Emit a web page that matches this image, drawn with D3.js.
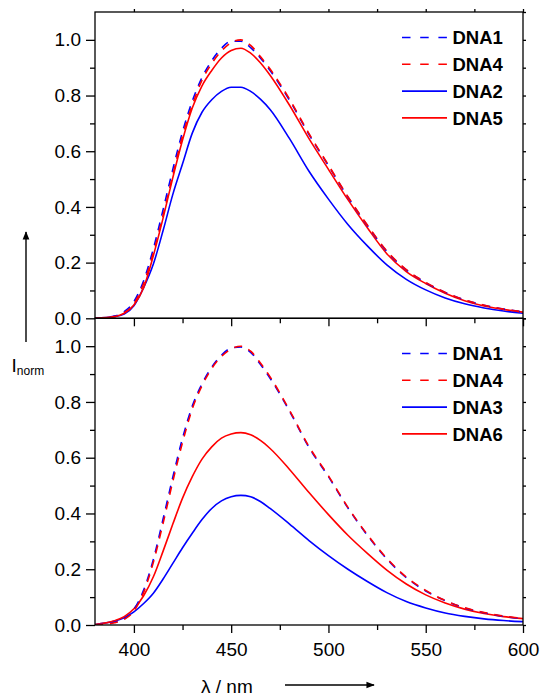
<!DOCTYPE html>
<html>
<head>
<meta charset="utf-8">
<script src="https://cdn.jsdelivr.net/npm/d3@7/dist/d3.min.js"></script>
<style>
body { margin: 0; background: #fff; }
text { font-family: "Liberation Sans", Arial, sans-serif; }
</style>
</head>
<body>
<script>
// wavelength grid (nm)
const wavelength = [380, 390, 395, 400, 405, 410, 415, 420, 425, 430, 435, 440, 445, 450, 455, 460, 465, 470, 480, 490, 500, 510, 520, 530, 540, 550, 560, 570, 580, 590, 600];

// top panel
const topDNA1 = [0, 0.008, 0.024, 0.06, 0.135, 0.25, 0.39, 0.535, 0.67, 0.78, 0.865, 0.925, 0.97, 0.995, 0.995, 0.972, 0.935, 0.89, 0.783, 0.66, 0.548, 0.435, 0.333, 0.24, 0.174, 0.128, 0.093, 0.066, 0.047, 0.033, 0.023];
const topDNA4 = [0, 0.006, 0.02, 0.052, 0.125, 0.235, 0.37, 0.515, 0.655, 0.765, 0.855, 0.915, 0.96, 0.99, 1.0, 0.98, 0.94, 0.895, 0.787, 0.663, 0.55, 0.437, 0.335, 0.242, 0.175, 0.129, 0.093, 0.066, 0.047, 0.033, 0.023];
const topDNA2 = [0, 0.006, 0.015, 0.045, 0.11, 0.195, 0.315, 0.445, 0.555, 0.665, 0.74, 0.785, 0.815, 0.83, 0.83, 0.815, 0.787, 0.75, 0.645, 0.528, 0.428, 0.337, 0.26, 0.192, 0.14, 0.102, 0.073, 0.052, 0.037, 0.026, 0.018];
const topDNA5 = [0, 0.006, 0.018, 0.048, 0.11, 0.225, 0.36, 0.505, 0.64, 0.755, 0.835, 0.89, 0.935, 0.962, 0.97, 0.952, 0.918, 0.873, 0.765, 0.645, 0.535, 0.426, 0.325, 0.232, 0.168, 0.125, 0.09, 0.063, 0.044, 0.032, 0.022];

// bottom panel
const botDNA1 = [0, 0.01, 0.022, 0.056, 0.125, 0.235, 0.38, 0.53, 0.67, 0.785, 0.865, 0.925, 0.968, 0.993, 0.997, 0.978, 0.935, 0.885, 0.767, 0.637, 0.532, 0.42, 0.322, 0.237, 0.17, 0.122, 0.087, 0.061, 0.044, 0.031, 0.023];
const botDNA4 = [0, 0.008, 0.02, 0.05, 0.117, 0.225, 0.365, 0.515, 0.655, 0.775, 0.858, 0.92, 0.963, 0.99, 1.0, 0.982, 0.94, 0.89, 0.77, 0.64, 0.535, 0.422, 0.324, 0.239, 0.172, 0.124, 0.088, 0.062, 0.045, 0.032, 0.024];
const botDNA3 = [0.002, 0.014, 0.026, 0.047, 0.077, 0.114, 0.165, 0.221, 0.277, 0.329, 0.378, 0.418, 0.445, 0.46, 0.465, 0.46, 0.443, 0.418, 0.362, 0.303, 0.249, 0.2, 0.156, 0.116, 0.084, 0.061, 0.043, 0.031, 0.022, 0.016, 0.012];
const botDNA6 = [0.002, 0.015, 0.03, 0.058, 0.105, 0.173, 0.265, 0.362, 0.455, 0.532, 0.595, 0.639, 0.67, 0.685, 0.69, 0.682, 0.662, 0.633, 0.558, 0.475, 0.396, 0.322, 0.257, 0.197, 0.147, 0.108, 0.079, 0.057, 0.041, 0.03, 0.023];

const topNames = ["DNA1", "DNA4", "DNA2", "DNA5"];
const botNames = ["DNA1", "DNA4", "DNA3", "DNA6"];

const yMajor = [0, 0.2, 0.4, 0.6, 0.8, 1.0];
const yMinor = [0.1, 0.3, 0.5, 0.7, 0.9];
const yRight = [0, 0.1, 0.2, 0.3, 0.4, 0.5, 0.6, 0.7, 0.8, 0.9, 1.0, 1.1];
const xMajor = [400, 450, 500, 550, 600];
const xMinor = [425, 475, 525, 575];

const W = 541, H = 698;
const left = 95, right = 523;
const topY0 = 12, midY = 318.3, botY1 = 625;

const BLUE = "#0000ff", RED = "#ff0000";

const svg = d3.select("body").append("svg")
    .attr("width", W).attr("height", H);

const x = d3.scaleLinear().domain([380, 600]).range([left, right]);

const panels = [
    {
        y: d3.scaleLinear().domain([0, 1.1]).range([midY, topY0]),
        top: topY0, bottom: midY, labels: false,
        series: [
            { name: topNames[0], values: topDNA1, color: BLUE, dash: true },
            { name: topNames[1], values: topDNA4, color: RED, dash: true },
            { name: topNames[2], values: topDNA2, color: BLUE, dash: false },
            { name: topNames[3], values: topDNA5, color: RED, dash: false }
        ],
        legendY: 37.5
    },
    {
        y: d3.scaleLinear().domain([0, 1.1]).range([botY1, midY]),
        top: midY, bottom: botY1, labels: true,
        series: [
            { name: botNames[0], values: botDNA1, color: BLUE, dash: true },
            { name: botNames[1], values: botDNA4, color: RED, dash: true },
            { name: botNames[2], values: botDNA3, color: BLUE, dash: false },
            { name: botNames[3], values: botDNA6, color: RED, dash: false }
        ],
        legendY: 353.5
    }
];

function styleAxis(g, size) {
    g.select(".domain").remove();
    g.selectAll("line").attr("stroke", "#000").attr("stroke-width", 1.3);
    g.selectAll("text").attr("font-size", size).attr("fill", "#000")
        .attr("font-family", "'Liberation Sans', Arial, sans-serif");
}

panels.forEach((p, k) => {
    const y = p.y;
    const clipId = "clip" + k;
    svg.append("clipPath").attr("id", clipId)
        .append("rect").attr("x", left).attr("y", p.top)
        .attr("width", right - left).attr("height", p.bottom - p.top);

    const line = d3.line()
        .x((d, i) => x(wavelength[i]))
        .y(d => y(d))
        .curve(d3.curveMonotoneX);

    // solids first, dashed on top
    const order = [2, 3, 0, 1];
    order.forEach(j => {
        const s = p.series[j];
        svg.append("path")
            .attr("clip-path", `url(#${clipId})`)
            .attr("d", line(s.values))
            .attr("fill", "none")
            .attr("stroke", s.color)
            .attr("stroke-width", 1.6)
            .attr("stroke-dasharray", s.dash ? "8,7" : null);
    });

    // left axis
    svg.append("g").attr("transform", `translate(${left},0)`)
        .call(d3.axisLeft(y).tickValues(yMajor).tickSize(9).tickPadding(5).tickFormat(d3.format(".1f")))
        .call(g => styleAxis(g, 19));
    svg.append("g").attr("transform", `translate(${left},0)`)
        .call(d3.axisLeft(y).tickValues(yMinor).tickSize(5).tickFormat(""))
        .call(g => styleAxis(g, 19));

    // right axis
    svg.append("g").attr("transform", `translate(${right},0)`)
        .call(d3.axisRight(y).tickValues(yRight).tickSize(3).tickFormat(""))
        .call(g => styleAxis(g, 19));

    // bottom axis
    svg.append("g").attr("transform", `translate(0,${p.bottom})`)
        .call(d3.axisBottom(x).tickValues(xMajor).tickSize(8).tickPadding(10)
            .tickFormat(p.labels ? d3.format("d") : ""))
        .call(g => styleAxis(g, 19));
    svg.append("g").attr("transform", `translate(0,${p.bottom})`)
        .call(d3.axisBottom(x).tickValues(xMinor).tickSize(5).tickFormat(""))
        .call(g => styleAxis(g, 19));

    if (k === 0) {
        svg.append("g").attr("transform", `translate(0,${p.top})`)
            .call(d3.axisTop(x).tickValues(xMajor.concat(xMinor)).tickSize(3).tickFormat(""))
            .call(g => styleAxis(g, 19));
    }

    // frame
    svg.append("rect")
        .attr("x", left).attr("y", p.top)
        .attr("width", right - left).attr("height", p.bottom - p.top)
        .attr("fill", "none").attr("stroke", "#000").attr("stroke-width", 1.3);

    // legend
    const lg = svg.append("g");
    p.series.forEach((s, i) => {
        const ly = p.legendY + i * 26.8;
        lg.append("line")
            .attr("x1", 402).attr("x2", 447).attr("y1", ly).attr("y2", ly)
            .attr("stroke", s.color).attr("stroke-width", 1.6)
            .attr("stroke-dasharray", s.dash ? "8.5,9.7" : null);
        lg.append("text")
            .attr("x", 452.5).attr("y", ly).attr("dy", "0.36em")
            .attr("font-size", 18.5).attr("font-weight", "bold")
            .text(s.name);
    });
});

// axis titles with arrows
const defs = svg.append("defs");
defs.append("marker").attr("id", "arrow")
    .attr("viewBox", "0 0 10 10").attr("refX", 9).attr("refY", 5)
    .attr("markerWidth", 6).attr("markerHeight", 6).attr("orient", "auto")
    .append("path").attr("d", "M0,1 L10,5 L0,9 Z").attr("fill", "#000");

svg.append("line")
    .attr("x1", 26).attr("x2", 26).attr("y1", 342).attr("y2", 232)
    .attr("stroke", "#000").attr("stroke-width", 1.4)
    .attr("marker-end", "url(#arrow)");

const yt = svg.append("text").attr("x", 11.5).attr("y", 372).attr("font-size", 19);
yt.append("tspan").text("I");
yt.append("tspan").attr("font-size", 12).attr("dy", 3).text("norm");

svg.append("text").attr("x", 201).attr("y", 693)
    .attr("font-size", 19).text("λ / nm");

svg.append("line")
    .attr("x1", 285).attr("x2", 374).attr("y1", 685).attr("y2", 685)
    .attr("stroke", "#000").attr("stroke-width", 1.4)
    .attr("marker-end", "url(#arrow)");
</script>
</body>
</html>
